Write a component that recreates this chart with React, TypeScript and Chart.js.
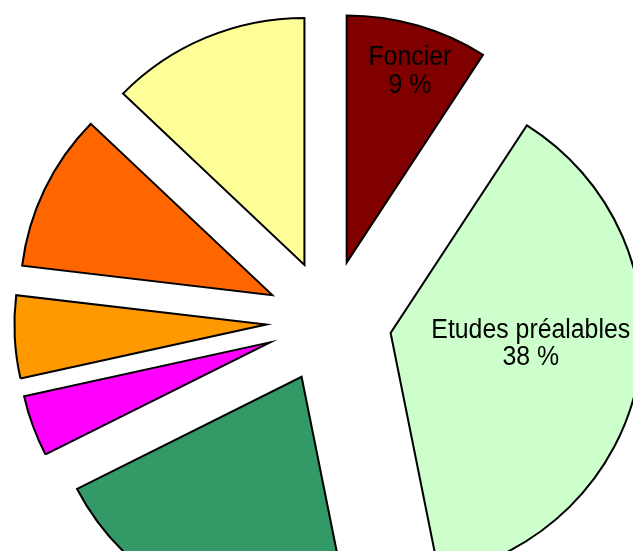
import React, { useEffect, useRef } from "react";
import { Chart, registerables } from "chart.js";

Chart.register(...registerables);

// ---- data ----
const categories = ["Foncier", "Etudes préalables", "", "", "", "", ""];
const values = [9.1, 37.8, 20.6, 4.0, 5.4, 10.3, 12.8];
const colors = ["#800000", "#CCFFCC", "#339966", "#FF00FF", "#FF9900", "#FF6600", "#FFFF99"];

// label placement inside each (exploded) slice: fraction of the slice angle, fraction of radius
const labelAngleFrac = [0.548, 0.454, 0.5, 0.5, 0.5, 0.5, 0.5];
const labelRadiusFrac = [0.813, 0.558, 0.6, 0.6, 0.6, 0.6, 0.6];

const EXPLODE = 61.5;
const RADIUS = 247;
const STRETCH_X = 1.02;
const FONT = "27px 'Liberation Sans', Arial, sans-serif";
const TEXT_SCALE_X = 0.92;
const LINE_GAP = 27.5;

const explodePlugin = {
  id: "explode",
  beforeDatasetDraw(chart: any, args: any) {
    const ctx = chart.ctx;
    args.meta.data.forEach((arc: any) => {
      const mid = (arc.startAngle + arc.endAngle) / 2;
      ctx.save();
      ctx.translate(arc.x, arc.y);
      ctx.scale(STRETCH_X, 1);
      ctx.translate(-arc.x, -arc.y);
      ctx.translate(Math.cos(mid) * EXPLODE, Math.sin(mid) * EXPLODE);
      arc.draw(ctx);
      ctx.restore();
    });
    return false;
  },
};

const labelPlugin = {
  id: "sliceLabels",
  afterDatasetsDraw(chart: any) {
    const ctx = chart.ctx;
    const meta = chart.getDatasetMeta(0);
    const total = values.reduce((a, b) => a + b, 0);
    meta.data.forEach((arc: any, i: number) => {
      const name = categories[i];
      if (!name) return;
      const mid = (arc.startAngle + arc.endAngle) / 2;
      const a = arc.startAngle + labelAngleFrac[i] * (arc.endAngle - arc.startAngle);
      const rr = arc.outerRadius * labelRadiusFrac[i];
      const x = arc.x + STRETCH_X * (Math.cos(mid) * EXPLODE + Math.cos(a) * rr);
      const y = arc.y + Math.sin(mid) * EXPLODE + Math.sin(a) * rr;
      const pct = Math.round((values[i] / total) * 100) + " %";
      ctx.save();
      ctx.font = FONT;
      ctx.fillStyle = "#000000";
      ctx.textAlign = "center";
      ctx.textBaseline = "middle";
      ctx.translate(x, y);
      ctx.scale(TEXT_SCALE_X, 1);
      ctx.fillText(name, 0, -LINE_GAP / 2);
      ctx.fillText(pct, 0, LINE_GAP / 2);
      ctx.restore();
    });
  },
};

export default function App() {
  const ref = useRef<HTMLCanvasElement | null>(null);
  useEffect(() => {
    if (!ref.current) return;
    const chart = new Chart(ref.current, {
      type: "pie",
      data: {
        labels: categories,
        datasets: [
          {
            data: values,
            backgroundColor: colors,
            borderColor: "#000000",
            borderWidth: 2,
            borderJoinStyle: "miter",
            radius: RADIUS,
            clip: false,
          } as any,
        ],
      },
      options: {
        responsive: false,
        animation: false,
        devicePixelRatio: 1,
        layout: { padding: { left: 25, top: 92, right: 0, bottom: 0 } },
        plugins: {
          legend: { display: false },
          tooltip: { enabled: false },
        },
        events: [],
      },
      plugins: [explodePlugin, labelPlugin],
    });
    return () => chart.destroy();
  }, []);
  return (
    <div style={{ position: "fixed", left: 0, top: 0, width: 633, height: 551, background: "#ffffff" }}>
      <canvas ref={ref} width={633} height={551} />
    </div>
  );
}
